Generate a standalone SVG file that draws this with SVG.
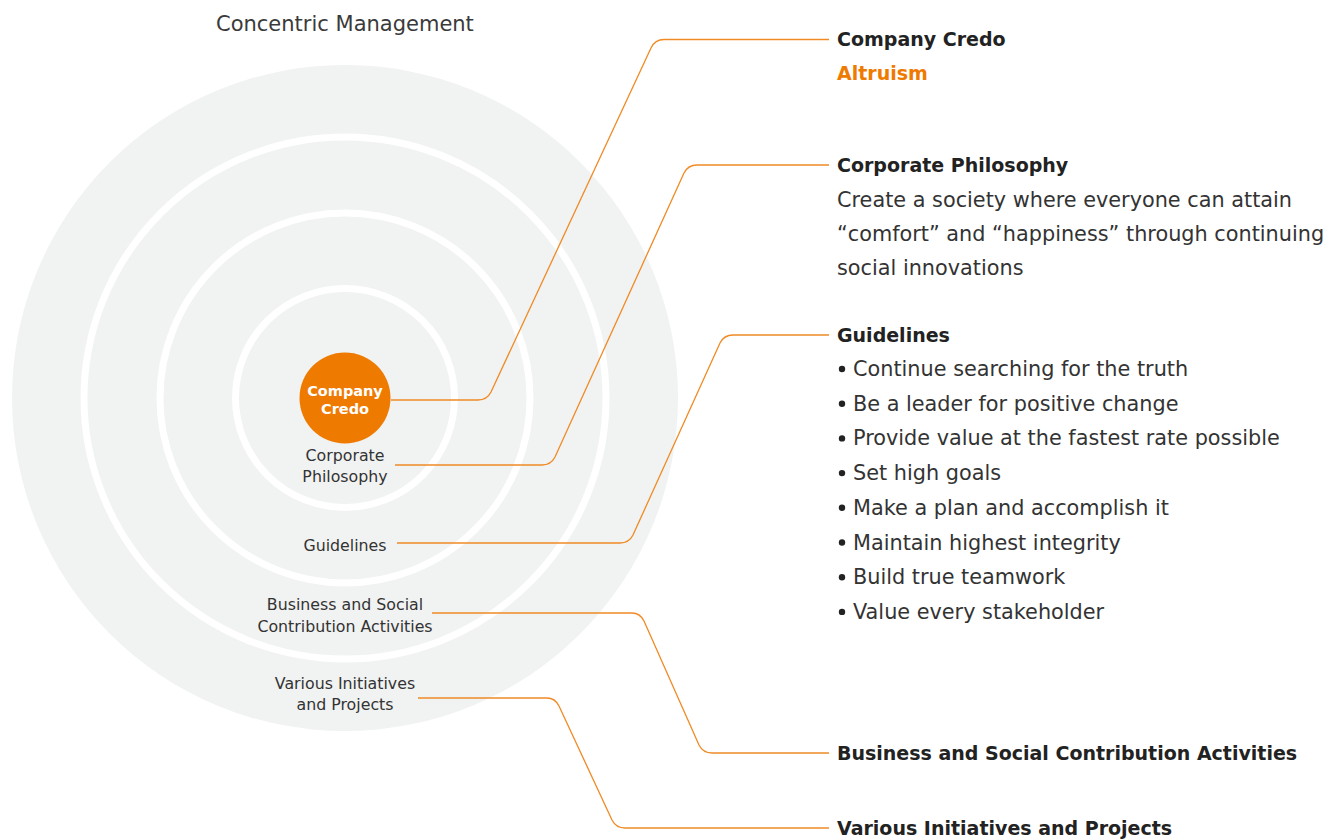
<svg xmlns="http://www.w3.org/2000/svg" width="1328" height="840" viewBox="0 0 1328 840">
<style>
.lbl{font-family:"DejaVu Sans","Liberation Sans",sans-serif;font-size:15.8px;fill:#333;text-anchor:middle}
.hd{font-family:"DejaVu Sans","Liberation Sans",sans-serif;font-size:19px;font-weight:bold;fill:#222}
.bd{font-family:"DejaVu Sans","Liberation Sans",sans-serif;font-size:20.8px;fill:#333}
.ring{fill:none;stroke:#fff;stroke-width:7}
.conn{fill:none;stroke:#F08A24;stroke-width:1.3}
.dot{fill:#222}
</style>
<rect width="1328" height="840" fill="#fff"/>
<text id="title" x="216" y="31" class="bd" style="font-size:21px;fill:#3a3a3a">Concentric Management</text>
<g id="rings">
<circle cx="345" cy="398" r="333" fill="#F1F2F2"/>
<circle cx="345" cy="398" r="261" class="ring"/>
<circle cx="345" cy="398" r="185" class="ring"/>
<circle cx="345" cy="398" r="109.5" class="ring"/>
</g>
<g id="connectors">
<path class="conn" d="M391 400 H478 Q487 400 491 392 L651 48 Q655 39.5 664 39.5 H829"/>
<path class="conn" d="M395 465 H542 Q551 465 555 457 L684 173 Q688 165 697 165 H829"/>
<path class="conn" d="M397 543 H620 Q629 543 633 535 L720 343 Q724 335 733 335 H829"/>
<path class="conn" d="M432 613 H632 Q640 613 644 621 L699 745 Q703 753 712 753 H829"/>
<path class="conn" d="M418 698 H547 Q555 698 559 706 L612 820 Q616 828 625 828 H829"/>
</g>
<g id="node-credo">
<circle cx="345" cy="398" r="45.5" fill="#EF7A00"/>
<text x="345" y="396" class="lbl" style="font-size:14.5px;font-weight:bold;fill:#fff">Company</text>
<text x="345" y="414" class="lbl" style="font-size:14.5px;font-weight:bold;fill:#fff">Credo</text>
</g>
<g id="node-philosophy-label">
<text x="345" y="461" class="lbl">Corporate</text>
<text x="345" y="482" class="lbl">Philosophy</text>
</g>
<g id="node-guidelines-label">
<text x="345" y="551" class="lbl">Guidelines</text>
</g>
<g id="node-business-label">
<text x="345" y="610" class="lbl">Business and Social</text>
<text x="345" y="632" class="lbl">Contribution Activities</text>
</g>
<g id="node-various-label">
<text x="345" y="688.5" class="lbl">Various Initiatives</text>
<text x="345" y="709.5" class="lbl">and Projects</text>
</g>
<g id="desc-credo">
<text x="837" y="46" class="hd">Company Credo</text>
<text x="837" y="80" class="hd" style="fill:#EF7A00">Altruism</text>
</g>
<g id="desc-philosophy">
<text x="837" y="172" class="hd">Corporate Philosophy</text>
<text x="837" y="207" class="bd">Create a society where everyone can attain</text>
<text x="837" y="241" class="bd">“comfort” and “happiness” through continuing</text>
<text x="837" y="275" class="bd">social innovations</text>
</g>
<g id="desc-guidelines">
<text x="837" y="342" class="hd">Guidelines</text>
<circle class="dot" cx="842" cy="369" r="3.2"/><text x="853" y="376" class="bd">Continue searching for the truth</text>
<circle class="dot" cx="842" cy="403.7" r="3.2"/><text x="853" y="410.7" class="bd">Be a leader for positive change</text>
<circle class="dot" cx="842" cy="438.4" r="3.2"/><text x="853" y="445.4" class="bd">Provide value at the fastest rate possible</text>
<circle class="dot" cx="842" cy="473.1" r="3.2"/><text x="853" y="480.1" class="bd">Set high goals</text>
<circle class="dot" cx="842" cy="507.8" r="3.2"/><text x="853" y="514.8" class="bd">Make a plan and accomplish it</text>
<circle class="dot" cx="842" cy="542.5" r="3.2"/><text x="853" y="549.5" class="bd">Maintain highest integrity</text>
<circle class="dot" cx="842" cy="577.2" r="3.2"/><text x="853" y="584.2" class="bd">Build true teamwork</text>
<circle class="dot" cx="842" cy="611.9" r="3.2"/><text x="853" y="618.9" class="bd">Value every stakeholder</text>
</g>
<g id="desc-business">
<text x="837" y="760" class="hd">Business and Social Contribution Activities</text>
</g>
<g id="desc-various">
<text x="837" y="835" class="hd">Various Initiatives and Projects</text>
</g>
</svg>
